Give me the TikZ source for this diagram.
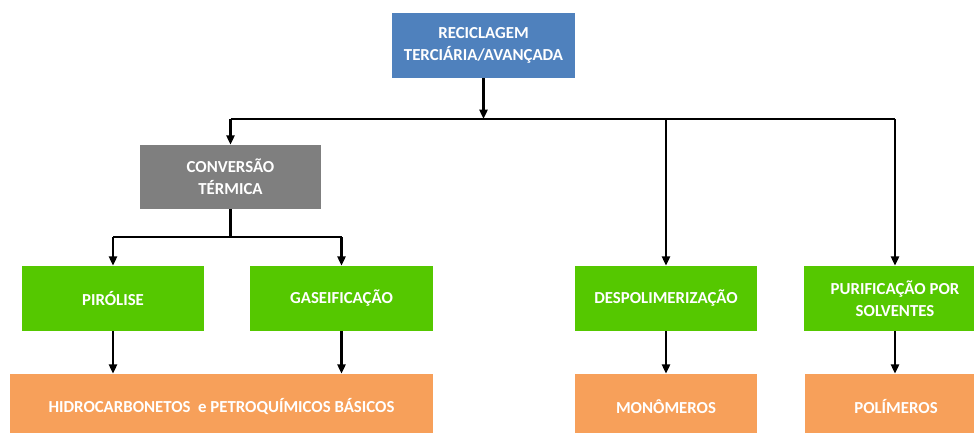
\documentclass[tikz,border=0pt]{standalone}
\usepackage{fontspec}
\setmainfont{Carlito}
\usetikzlibrary{arrows.meta,calc}
\definecolor{azul}{HTML}{4F81BD}
\definecolor{cinza}{HTML}{7F7F7F}
\definecolor{verde}{HTML}{55C800}
\definecolor{laranja}{HTML}{F7A05A}
\tikzset{
  caixa/.style={rectangle,draw=none,text=white,font=\bfseries\fontsize{12.6}{16.5}\selectfont,
    align=center,minimum width=137pt,minimum height=48.75pt,inner sep=2pt},
  seta/.style={-{Triangle[length=7pt,width=6pt]},line width=1.8pt},
  linha/.style={line width=1.8pt}
}

\begin{document}
\begin{tikzpicture}[x=0.75pt,y=-0.75pt]
	%\draw[help lines] (0,0) grid (974,432);
	\useasboundingbox (0,0) rectangle (974,432);
	%CAIXAS
	\node[caixa,fill=azul] (rec) at (483.5,45.5) {RECICLAGEM\\TERCIÁRIA/AVANÇADA};
	\node[caixa,fill=cinza,minimum width=135.75pt,minimum height=48pt] (conv) at (230.5,177) {CONVERSÃO\\TÉRMICA};
	\node[caixa,fill=verde,minimum width=136.5pt] (pir) at (113,298.5) {PIRÓLISE};
	\node[caixa,fill=verde] (gas) at (341.5,298.5) {GASEIFICAÇÃO};
	\node[caixa,fill=verde,minimum width=136.5pt] (desp) at (666,298.5) {DESPOLIMERIZAÇÃO};
	\node[caixa,fill=verde] (puri) at (895,298.5) {PURIFICAÇÃO POR\\SOLVENTES};
	\node[caixa,fill=laranja,minimum width=317.25pt] (hidro) at (221.5,406.5) {HIDROCARBONETOS \ e PETROQUÍMICOS BÁSICOS};
	\node[caixa,fill=laranja,minimum width=136.5pt] (mono) at (666,406.5) {MONÔMEROS};
	\node[caixa,fill=laranja] (poli) at (896,406.5) {POLÍMEROS};
	%barras
	\coordinate (b1) at (483.5,119);
	\coordinate (b2) at (230.5,237);
	%LIGACOES
	\draw[seta] (rec) -- (b1);
	\draw[linha] (conv.north |- b1) -- (puri.north |- b1);
	\draw[seta] (conv.north |- b1) -- (conv);
	\draw[seta] (desp.north |- b1) -- (desp);
	\draw[seta] (puri.north |- b1) -- (puri);
	\draw[linha] (conv) -- (b2);
	\draw[linha] (pir.north |- b2) -- (gas.north |- b2);
	\draw[seta] (pir.north |- b2) -- (pir);
	\draw[seta] (gas.north |- b2) -- (gas);
	\draw[seta] (pir) -- (pir |- hidro.north);
	\draw[seta] (gas) -- (gas |- hidro.north);
	\draw[seta] (desp) -- (mono);
	\draw[seta] (puri) -- (puri |- poli.north);
\end{tikzpicture}
\end{document}
